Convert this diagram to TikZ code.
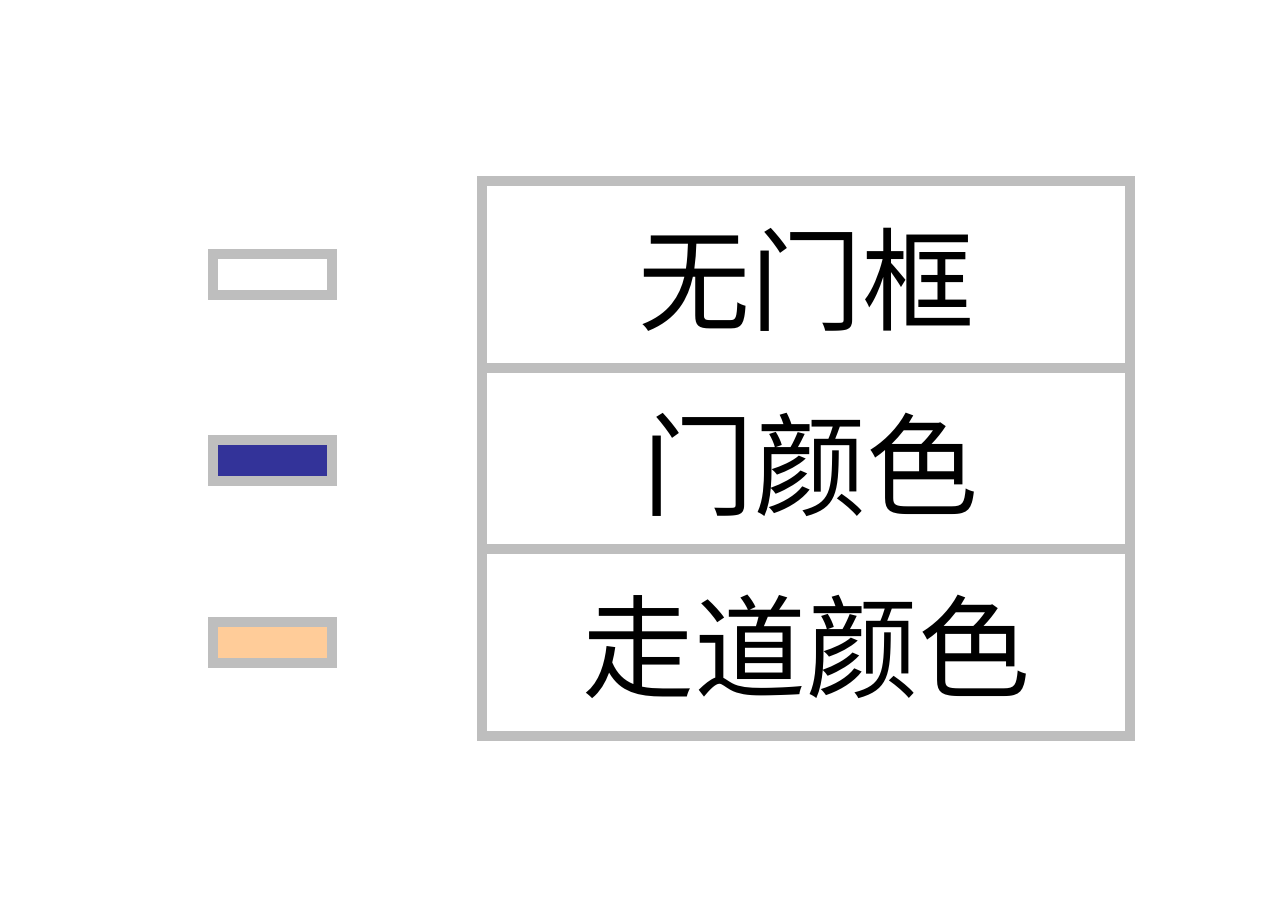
\documentclass[tikz,border=0pt]{standalone}
\usepackage{fontspec}
\newfontfamily\cjk{Noto Sans CJK SC}
\definecolor{framegray}{RGB}{190,190,190}
\definecolor{doorblue}{RGB}{51,51,153}
\definecolor{hallorange}{RGB}{255,204,153}
\tikzset{
  swatch/.style={draw=framegray, line width=10pt, minimum width=119.5pt, minimum height=41.5pt, inner sep=0pt},
  cell/.style={draw=framegray, line width=10pt, minimum width=648pt, inner sep=0pt},
  label/.style={font=\cjk\fontsize{112}{112}\selectfont, inner sep=0pt},
}
\begin{document}
\begin{tikzpicture}[x=1pt,y=-1pt]
\useasboundingbox (0,0) rectangle (1280,906);
\fill[white] (0,0) rectangle (1280,906);
\node[swatch, fill=white] (s1) at (272.25,274.25) {};
\node[swatch, fill=doorblue] (s2) at (272.25,460.25) {};
\node[swatch, fill=hallorange] (s3) at (272.25,642.25) {};
\node[cell, minimum height=187pt] (c1) at (806,274.5) {};
\node[cell, minimum height=181pt] (c2) at (806,458.5) {};
\node[cell, minimum height=187pt] (c3) at (806,642.5) {};
\node[label] (t1) at (806,280) {无门框};
\node[label] (t2) at (810,465) {门颜色};
\node[label] (t3) at (806,647) {走道颜色};
\end{tikzpicture}
\end{document}
